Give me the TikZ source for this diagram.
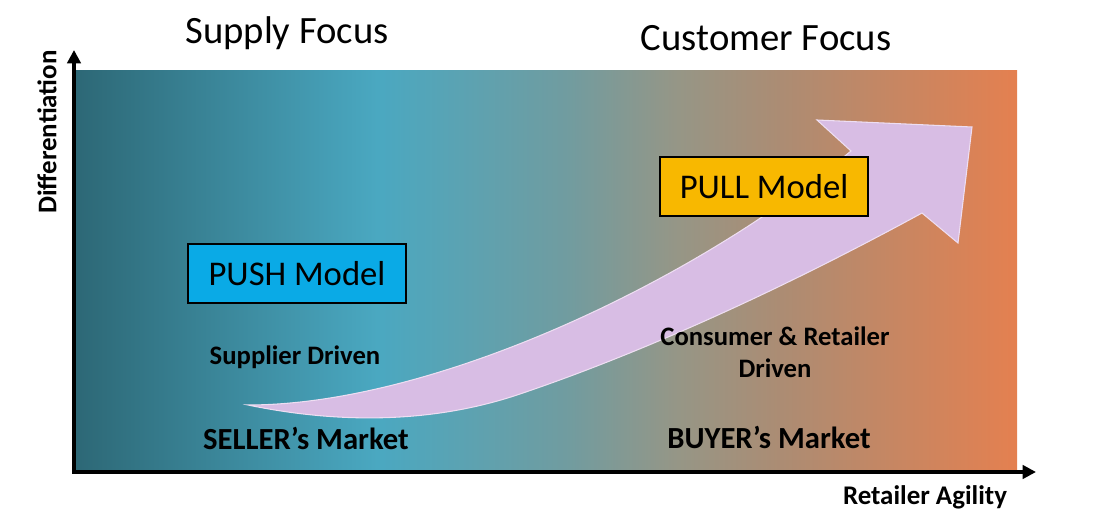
\documentclass[tikz,border=0pt]{standalone}
\usepackage{fontspec}
\setmainfont{Carlito}
\usetikzlibrary{arrows.meta}

\definecolor{fadeA}{RGB}{45,104,118}
\definecolor{fadeB}{RGB}{74,168,193}
\definecolor{fadeC}{RGB}{112,156,160}
\definecolor{fadeD}{RGB}{150,150,134}
\definecolor{fadeE}{RGB}{172,140,115}
\definecolor{fadeF}{RGB}{228,128,80}
\definecolor{pushblue}{RGB}{10,170,230}
\definecolor{pullyellow}{RGB}{248,184,0}
\definecolor{lilac}{RGB}{216,189,228}
\definecolor{lilacedge}{RGB}{238,222,242}

\pgfdeclarehorizontalshading{marketfade}{100bp}{color(0bp)=(fadeA); color(25bp)=(fadeA);
  color(41bp)=(fadeB); color(51bp)=(fadeC); color(57bp)=(fadeD); color(62.5bp)=(fadeE);
  color(75bp)=(fadeF); color(100bp)=(fadeF)}

\begin{document}
\begin{tikzpicture}[x=0.75pt, y=-0.75pt,
  axis/.style={line width=3pt, -{Triangle[length=10pt, width=10pt]}},
  modelbox/.style={draw=black, line width=1.1pt, minimum height=44pt, inner sep=0pt,
    font=\fontsize{26}{30}\selectfont},
  focus/.style={font=\fontsize{29}{34}\selectfont},
  market/.style={font=\bfseries\fontsize{23}{28}\selectfont},
  driver/.style={font=\bfseries\fontsize{20}{24}\selectfont, align=center},
  axislabel/.style={font=\bfseries\fontsize{20.2}{24}\selectfont}]
  \useasboundingbox (0,0) rectangle (1115,520);

  % background and big arrow
  \shade[shading=marketfade] (76,71) rectangle (1017,471);
  \draw[fill=lilac, draw=lilacedge, line width=0.8pt] (248,405) .. controls (430,405) and (690,285) .. (851,151)
    -- (817,120) -- (972,127) -- (958,243) -- (922,213)
    .. controls (790,285) and (650,350) .. (520,394)
    .. controls (420,428) and (320,420) .. (248,405) -- cycle;

  % axes
  \coordinate (origin) at (74,472);
  \coordinate (ytip) at (74,50);
  \coordinate (xtip) at (1036,472);
  \draw[axis] ([yshift=1.5pt]origin) -- (ytip);
  \draw[axis] ([xshift=-1.5pt]origin) -- (xtip);
  \node[axislabel, rotate=90] (diff) at (47,132) {Differentiation};
  \node[axislabel] (agility) at (925,497) {Retailer Agility};

  \node[focus] (supply) at (287,33) {Supply Focus};
  \node[focus] (customer) at (766,38) {Customer Focus};

  \node[modelbox, fill=pushblue, minimum width=163.5pt] (push) at (297,273.5) {PUSH Model};
  \node[modelbox, fill=pullyellow, minimum width=156pt] (pull) at (764,186.5) {PULL Model};

  \node[driver] (supplier) at (295,357) {Supplier Driven};
  \node[driver] (consumer) at (775,352) {Consumer \& Retailer\\Driven};
  \node[market] (seller) at (306,438) {SELLER’s Market};
  \node[market] (buyer) at (769,437) {BUYER’s Market};

\end{tikzpicture}
\end{document}
